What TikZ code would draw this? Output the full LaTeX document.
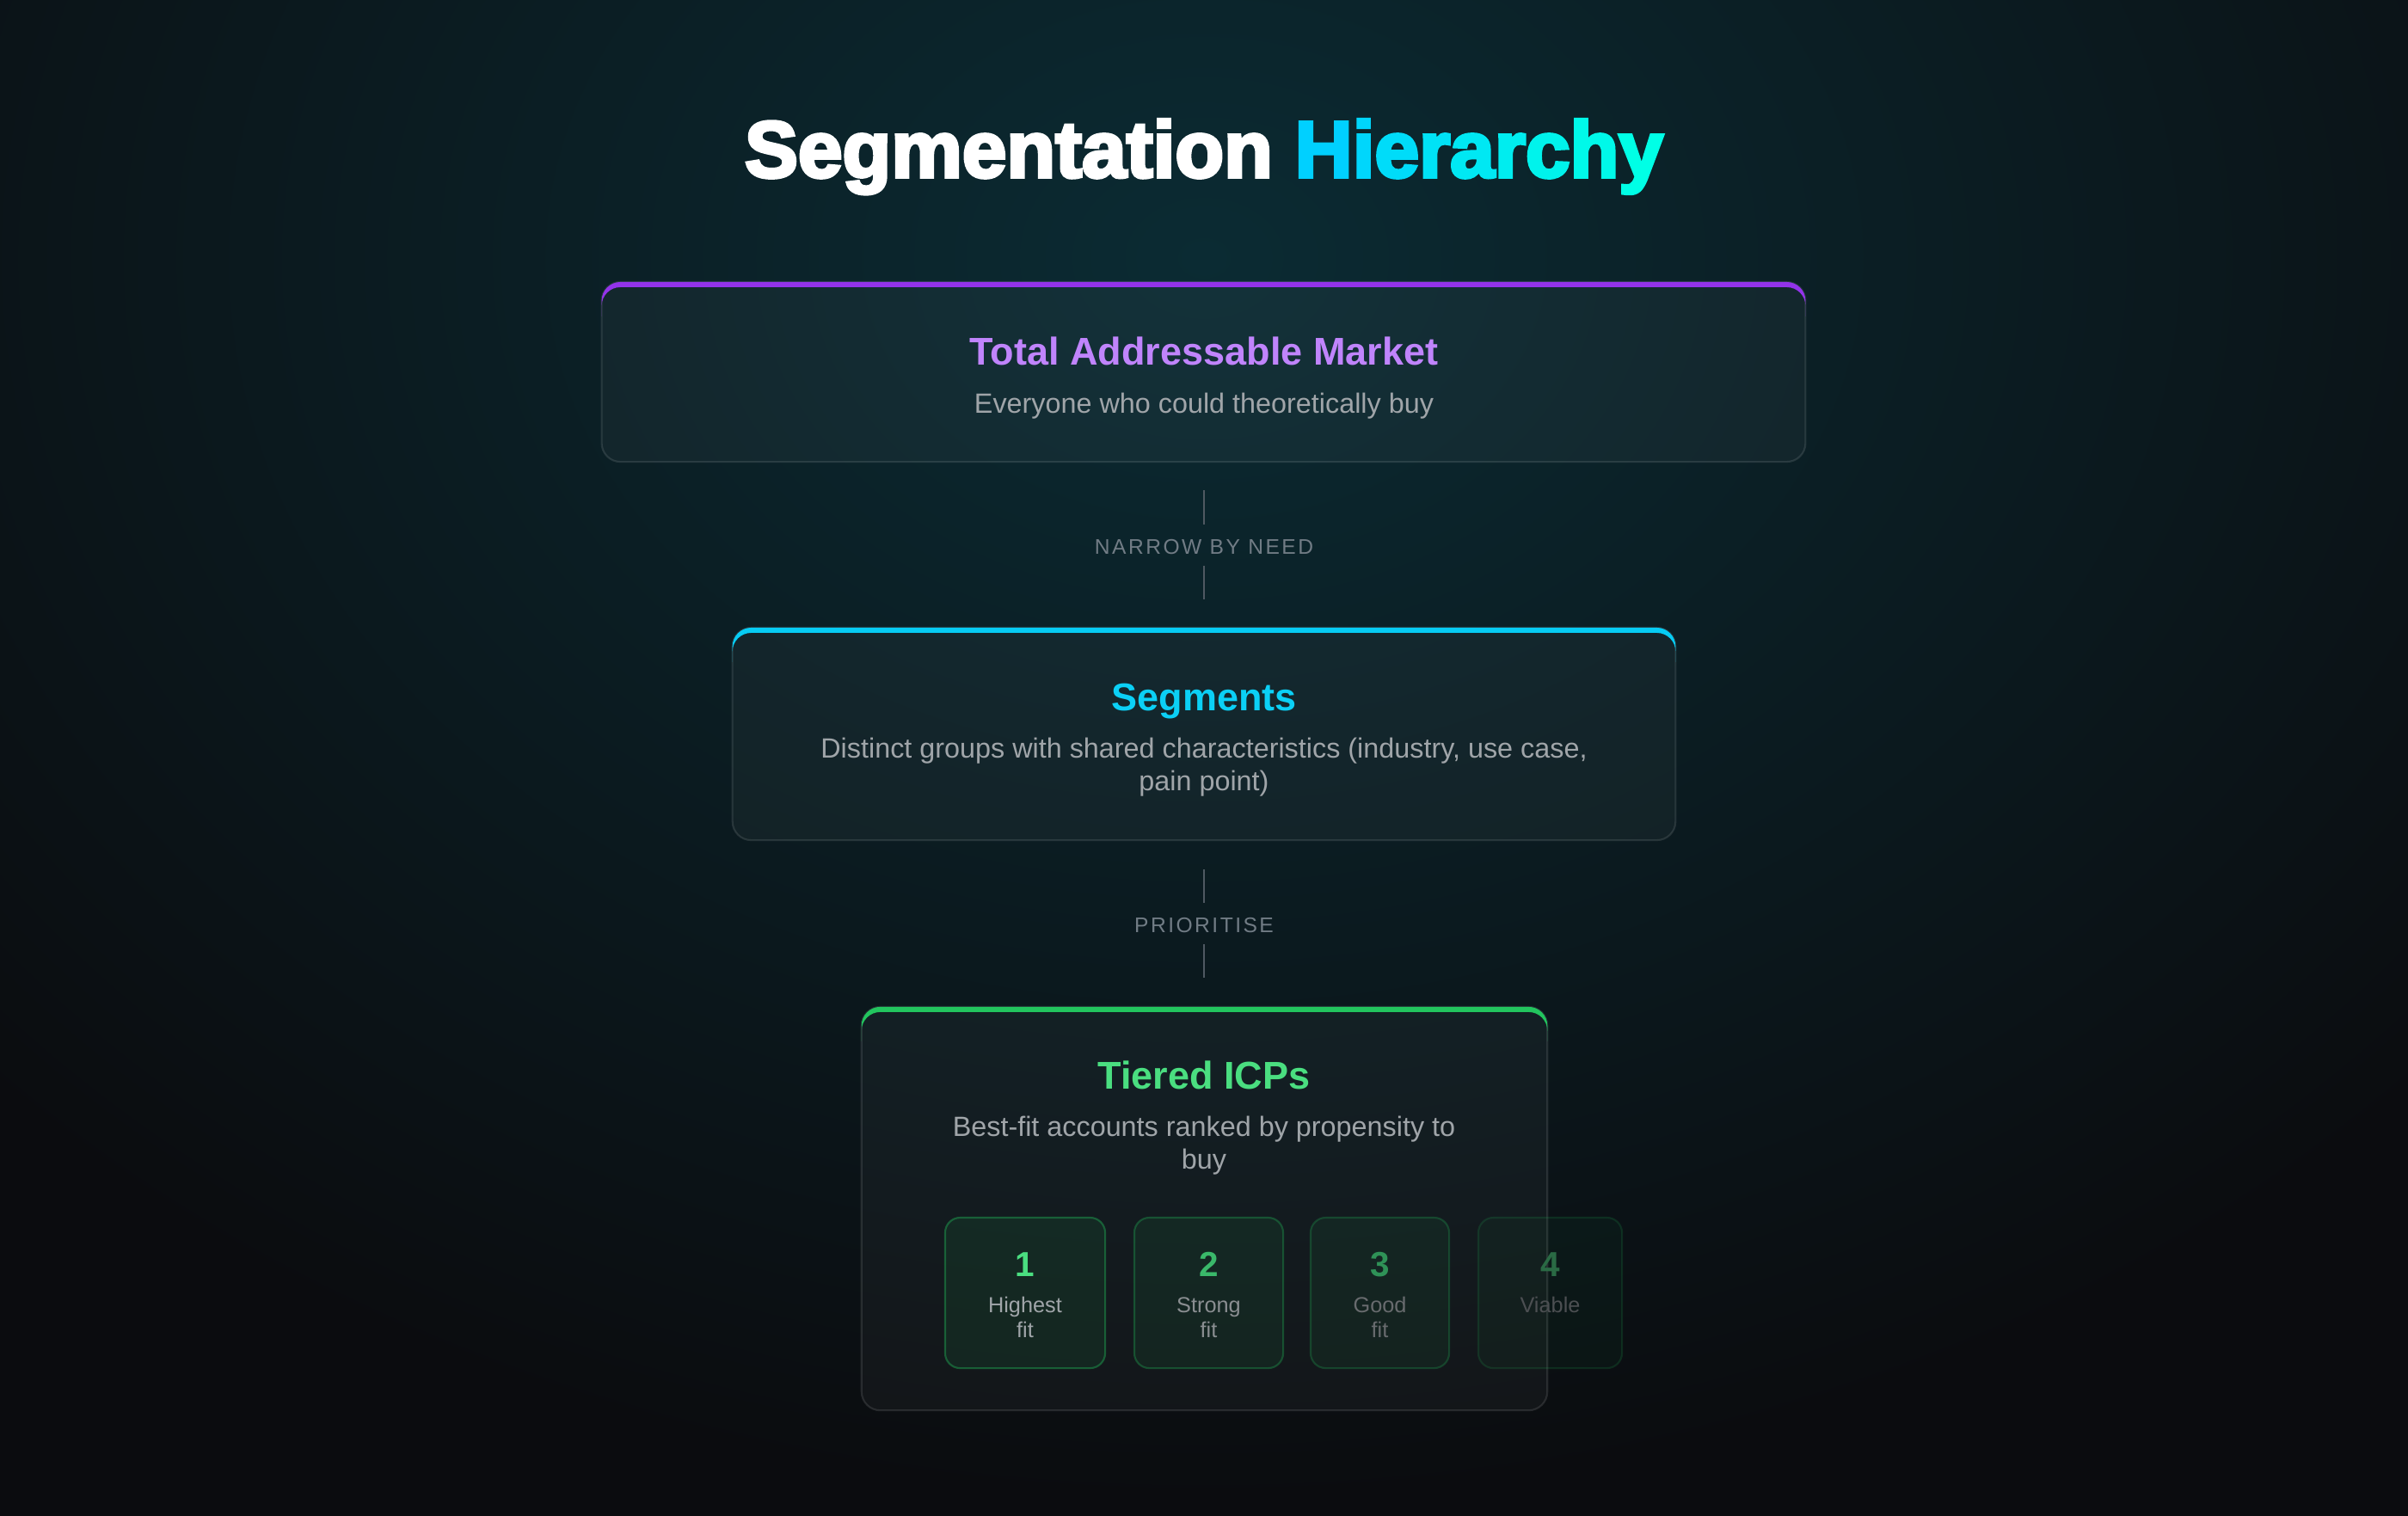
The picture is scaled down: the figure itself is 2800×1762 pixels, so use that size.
\documentclass[tikz,border=0pt]{standalone}
\usepackage{fontspec}
\setmainfont{Liberation Sans}
\newfontfamily\titlefont{Liberation Sans}
\newfontfamily\capsfont[LetterSpace=10]{Liberation Sans}
\newcommand\heavyon{\special{pdf:literal direct 2 Tr 1.1 w}}
\newcommand\heavyoff{\special{pdf:literal direct 0 Tr}}
\usetikzlibrary{calc}
\definecolor{bgbase}{HTML}{0B0C0F}
\definecolor{glow}{HTML}{0B2B33}
\definecolor{tamc}{HTML}{9333EA}
\definecolor{tamt}{HTML}{C084FC}
\definecolor{segc}{HTML}{06CCF4}
\definecolor{segt}{HTML}{0BD0F6}
\definecolor{tierc}{HTML}{22C55E}
\definecolor{tiert}{HTML}{4ADE80}
\definecolor{subc}{HTML}{A0A5A9}
\definecolor{connc}{HTML}{4F5962}
\definecolor{connt}{HTML}{717C85}
\newcommand\accentbar[2]{%
  \begin{scope}
    \clip ($(#1.north west)+(-4,-4)$) rectangle ($(#1.north east)+(4,40)$);
    \fill[#2, even odd rule, rounded corners=6.2pt] (#1.north west) rectangle (#1.south east)
      ($(#1.north west)+(0,6)$) rectangle (#1.south east);
  \end{scope}}
\begin{document}
\begin{tikzpicture}[x=0.01cm,y=-0.01cm,
  panel/.style={rectangle, rounded corners=6.2pt, inner sep=0pt, outer sep=0pt,
    fill=white, fill opacity=0.035, draw=white, draw opacity=0.11, line width=0.6pt},
  boxtitle/.style={anchor=base, font=\bfseries\fontsize{12.8}{15}\selectfont},
  boxsub/.style={anchor=base, text=subc, font=\fontsize{9.2}{11}\selectfont},
  conn/.style={draw=connc, line width=0.8pt},
  connlabel/.style={anchor=base, text=connt, font=\capsfont\fontsize{7}{9}\selectfont},
  tile/.style={rectangle, rounded corners=5pt, inner sep=0pt, outer sep=0pt,
    fill=tierc, draw=tierc, line width=0.6pt, minimum height=1.75cm},
  tnum/.style={anchor=base, font=\bfseries\fontsize{11.5}{13}\selectfont},
  tlab/.style={anchor=base, font=\fontsize{7.2}{9}\selectfont}]
\useasboundingbox (0,0) rectangle (2800,1762);
\fill[bgbase] (-20,-20) rectangle (2820,1782);
\begin{scope}
  \clip (-20,-20) rectangle (2820,1782);
  \shade[inner color=glow, outer color=bgbase] (1400,300) ellipse [x radius=1900, y radius=1450];
\end{scope}

% title
\node[anchor=base, font=\titlefont\bfseries\fontsize{26.4}{30}\selectfont, text=white] (title) at (1400,206)
  {\heavyon Segmentation {\color[HTML]{00D0FF}H}{\color[HTML]{00D6FC}i}{\color[HTML]{00DCF9}e}{\color[HTML]{00E2F6}r}{\color[HTML]{00E8F3}a}{\color[HTML]{00EDEF}r}{\color[HTML]{00F3EC}c}{\color[HTML]{00F9E9}h}{\color[HTML]{00FFE6}y}\heavyoff};

% TAM box
\node[panel, minimum width=13.99cm, minimum height=2.09cm] (tam) at (1399.5,432.5) {};
\accentbar{tam}{tamc}
\node[boxtitle, text=tamt] (tamtitle) at (1400,424) {Total Addressable Market};
\node[boxsub] (tamsub) at (1400,480) {Everyone who could theoretically buy};

% connector 1
\coordinate (c1a) at (1400,570);
\coordinate (c1b) at (1400,610);
\coordinate (c1c) at (1400,658);
\coordinate (c1d) at (1400,697);
\draw[conn] (c1a) -- (c1b);
\node[connlabel] (need) at (1400,644) {NARROW BY NEED};
\draw[conn] (c1c) -- (c1d);

% Segments box
\node[panel, minimum width=10.96cm, minimum height=2.47cm] (seg) at (1400,853.5) {};
\accentbar{seg}{segc}
\node[boxtitle, text=segt] (segtitle) at (1400,826) {Segments};
\node[boxsub] (segsub1) at (1400,881) {Distinct groups with shared characteristics (industry, use case,};
\node[boxsub] (segsub2) at (1400,919) {pain point)};

% connector 2
\coordinate (c2a) at (1400,1011);
\coordinate (c2b) at (1400,1050);
\coordinate (c2c) at (1400,1098);
\coordinate (c2d) at (1400,1137);
\draw[conn] (c2a) -- (c2b);
\node[connlabel] (prio) at (1400,1084) {PRIORITISE};
\draw[conn] (c2c) -- (c2d);

% Tiered box
\node[panel, minimum width=7.97cm, minimum height=4.69cm] (tier) at (1400.5,1405.5) {};
\accentbar{tier}{tierc}
\node[boxtitle, text=tiert] (tiertitle) at (1400,1266) {Tiered ICPs};
\node[boxsub] (tiersub1) at (1400,1321) {Best-fit accounts ranked by propensity to};
\node[boxsub] (tiersub2) at (1400,1359) {buy};

% tiles
\node[tile, minimum width=1.86cm, fill opacity=0.09, draw opacity=0.38] (t1) at (1192,1503.5) {};
\node[tile, minimum width=1.73cm, fill opacity=0.08, draw opacity=0.30] (t2) at (1405.5,1503.5) {};
\node[tile, minimum width=1.61cm, fill opacity=0.065, draw opacity=0.24] (t3) at (1604.5,1503.5) {};
\node[tile, minimum width=1.67cm, fill opacity=0.045, draw opacity=0.15] (t4) at (1802.5,1503.5) {};

\node[tnum, text=tiert] (n1) at (1192,1484) {1};
\node[tlab, text=subc] (l1a) at (1192,1526) {Highest};
\node[tlab, text=subc] (l1b) at (1192,1555) {fit};

\node[tnum, text={rgb,255:red,58;green,184;blue,106}] (n2) at (1405.5,1484) {2};
\node[tlab, text={rgb,255:red,138;green,142;blue,145}] (l2a) at (1405.5,1526) {Strong};
\node[tlab, text={rgb,255:red,138;green,142;blue,145}] (l2b) at (1405.5,1555) {fit};

\node[tnum, text={rgb,255:red,47;green,146;blue,87}] (n3) at (1604.5,1484) {3};
\node[tlab, text={rgb,255:red,104;green,107;blue,110}] (l3a) at (1604.5,1526) {Good};
\node[tlab, text={rgb,255:red,104;green,107;blue,110}] (l3b) at (1604.5,1555) {fit};

\node[tnum, text={rgb,255:red,42;green,106;blue,68}] (n4) at (1802.5,1484) {4};
\node[tlab, text={rgb,255:red,76;green,79;blue,82}] (l4a) at (1802.5,1526) {Viable};
\end{tikzpicture}
\end{document}
